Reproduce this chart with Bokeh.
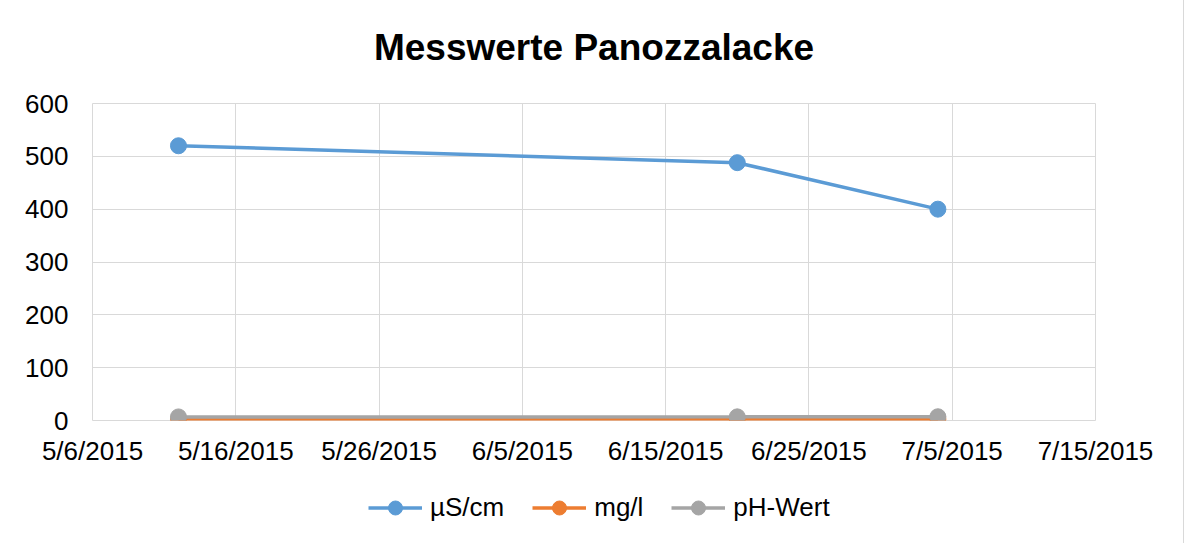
import pandas as pd
from bokeh.plotting import figure
from bokeh.layouts import column
from bokeh.models import FixedTicker, Range1d, Legend, LegendItem, Title
from bokeh.embed import file_html
from bokeh.resources import INLINE

# ---- data ----
dates = ["2015-05-12", "2015-06-20", "2015-07-04"]
us_cm = [520, 488, 400]
mg_l = [2.4, 2.2, 2.6]
ph_wert = [6.8, 6.9, 7.1]

tick_dates = ["2015-05-06", "2015-05-16", "2015-05-26", "2015-06-05",
              "2015-06-15", "2015-06-25", "2015-07-05", "2015-07-15"]
tick_labels = ["5/6/2015", "5/16/2015", "5/26/2015", "6/5/2015",
               "6/15/2015", "6/25/2015", "7/5/2015", "7/15/2015"]
y_ticks = [0, 100, 200, 300, 400, 500, 600]

title_text = "Messwerte Panozzalacke"
series_names = ["µS/cm", "mg/l", "pH-Wert"]
colors = ["#5b9bd5", "#ed7d31", "#a5a5a5"]

def ms(d):
    return pd.Timestamp(d).timestamp() * 1000.0

x = [pd.Timestamp(d) for d in dates]
xticks = [ms(d) for d in tick_dates]
series = [us_cm, mg_l, ph_wert]

FONT = "Liberation Sans"
W = 1183
H_MAIN = 468
H_LEG = 75

p = figure(width=W, height=H_MAIN, x_axis_type="datetime",
           output_backend="svg", toolbar_location=None,
           x_range=Range1d(xticks[0], xticks[-1]), y_range=Range1d(0, 600),
           min_border_left=92, min_border_right=88, min_border_top=103,
           min_border_bottom=47)

p.title.text = title_text
p.title.align = "center"
p.title.text_font = FONT
p.title.text_font_size = "37px"
p.title.text_font_style = "bold"
p.title.text_color = "#000000"
p.title.standoff = 0
# spacer between title and plot area
p.add_layout(Title(text=" ", text_font_size="1px", standoff=33), "above")

p.background_fill_color = "white"
p.border_fill_color = "white"
p.outline_line_color = "#d9d9d9"

p.xaxis.ticker = FixedTicker(ticks=xticks)
p.xaxis.major_label_overrides = {t: l for t, l in zip(xticks, tick_labels)}
p.yaxis.ticker = FixedTicker(ticks=y_ticks)
p.xgrid.ticker = FixedTicker(ticks=xticks)
p.ygrid.ticker = FixedTicker(ticks=y_ticks)

for ax in (p.xaxis, p.yaxis):
    ax.axis_line_color = None
    ax.major_tick_line_color = None
    ax.minor_tick_line_color = None
    ax.major_tick_out = 0
    ax.major_tick_in = 0
    ax.major_label_text_font = FONT
    ax.major_label_text_font_size = "26px"
    ax.major_label_text_color = "#000000"
p.yaxis.major_label_standoff = 24
p.xaxis.major_label_standoff = 15

p.xgrid.grid_line_color = "#d9d9d9"
p.ygrid.grid_line_color = "#d9d9d9"

for ys, c in zip(series, colors):
    p.line(x, ys, line_color=c, line_width=3.5)
    p.scatter(x, ys, marker="circle", size=16, fill_color=c, line_color=c)

# legend strip below the chart (series drawn out of view, only legend shows)
pl = figure(width=W, height=H_LEG, output_backend="svg", toolbar_location=None,
            x_axis_location=None, y_axis_location=None,
            x_range=Range1d(0, 1), y_range=Range1d(0, 1),
            min_border_left=0, min_border_right=0,
            min_border_top=0, min_border_bottom=0)
pl.grid.visible = False
pl.outline_line_color = None
pl.background_fill_color = "white"
pl.border_fill_color = "white"

items = []
for name, ys, c in zip(series_names, series, colors):
    ln = pl.line(x, ys, line_color=c, line_width=3.5)
    sc = pl.scatter(x, ys, marker="circle", size=14, fill_color=c, line_color=c)
    items.append(LegendItem(label=name, renderers=[ln, sc]))

legend = Legend(items=items, orientation="horizontal", location=(276, 18))
legend.label_text_font = FONT
legend.label_text_font_size = "26px"
legend.label_text_color = "#000000"
legend.glyph_width = 54
legend.glyph_height = 35
legend.label_standoff = 8
legend.spacing = 28
legend.padding = 0
legend.margin = 0
legend.border_line_color = None
legend.background_fill_alpha = 0
pl.add_layout(legend, "center")

layout = column(p, pl, spacing=0, styles={"outline": "1px solid #d9d9d9"})

open("out.html", "w").write(file_html(layout, INLINE))
